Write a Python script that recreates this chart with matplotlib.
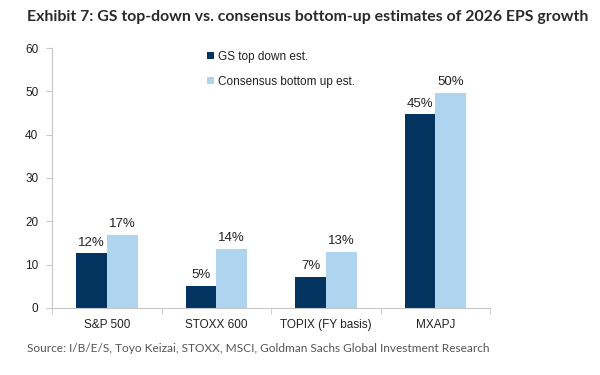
import numpy as np
import matplotlib
matplotlib.use('Agg')
import matplotlib.pyplot as plt

# Données
categories = ['S&P 500', 'STOXX 600', 'TOPIX (FY basis)', 'MXAPJ']
gs_top_down = [12.6, 5.1, 7.2, 44.7]
consensus = [16.9, 13.7, 13.0, 49.7]
gs_labels = ['12%', '5%', '7%', '45%']
cons_labels = ['17%', '14%', '13%', '50%']
yticks = [0, 10, 20, 30, 40, 50, 60]

dark = '#02345F'
light = '#AED4F0'
axis_grey = '#C8C8C8'
text_col = '#222222'

plt.rcParams['font.family'] = ['Liberation Sans', 'DejaVu Sans']

fig = plt.figure(figsize=(6, 3.75), dpi=100)
ax = fig.add_axes([0.087, 0.179, 0.730, 0.693])

x = np.arange(len(categories))
w = 0.28
b1 = ax.bar(x - w / 2, gs_top_down, w, color=dark, label='GS top down est.')
b2 = ax.bar(x + w / 2, consensus, w, color=light, label='Consensus bottom up est.')

for rect, lab in zip(b1, gs_labels):
    ax.text(rect.get_x() + rect.get_width() / 2, rect.get_height() + 1.1, lab,
            ha='center', va='bottom', fontsize=9.5, color=text_col)
for rect, lab in zip(b2, cons_labels):
    ax.text(rect.get_x() + rect.get_width() / 2, rect.get_height() + 1.1, lab,
            ha='center', va='bottom', fontsize=9.5, color=text_col)

ax.set_xlim(-0.5, len(categories) - 0.5)
ax.set_ylim(0, 60)
ax.set_yticks(yticks)
ax.set_xticks(x)
ax.set_xticklabels(categories)
ax.set_xticks(np.arange(len(categories) + 1) - 0.5, minor=True)
ax.tick_params(axis='x', which='major', length=0, pad=8, labelsize=8.5, labelcolor=text_col)
ax.tick_params(axis='x', which='minor', length=4, color=axis_grey, direction='out')
ax.tick_params(axis='y', length=4, color=axis_grey, labelsize=8.5, labelcolor=text_col, pad=6)

for s in ['top', 'right']:
    ax.spines[s].set_visible(False)
for s in ['left', 'bottom']:
    ax.spines[s].set_color(axis_grey)
    ax.spines[s].set_linewidth(0.8)

leg = ax.legend(loc='upper left', bbox_to_anchor=(0.33, 1.03), frameon=False,
                fontsize=8.5, handlelength=0.6, handleheight=0.6, handletextpad=0.3,
                labelspacing=1.1, labelcolor=text_col)

fig.text(0.045, 0.955, 'Exhibit 7: GS top-down vs. consensus bottom-up estimates of 2026 EPS growth',
         fontsize=11.4, fontweight='bold', family=['Lato', 'DejaVu Sans'], color='#2a2a2a',
         va='center', ha='left')
fig.text(0.045, 0.072, 'Source: I/B/E/S, Toyo Keizai, STOXX, MSCI, Goldman Sachs Global Investment Research',
         fontsize=8.6, family=['Lato', 'DejaVu Sans'], color='#555555', va='center', ha='left')

fig.savefig('out.png', dpi=100)
